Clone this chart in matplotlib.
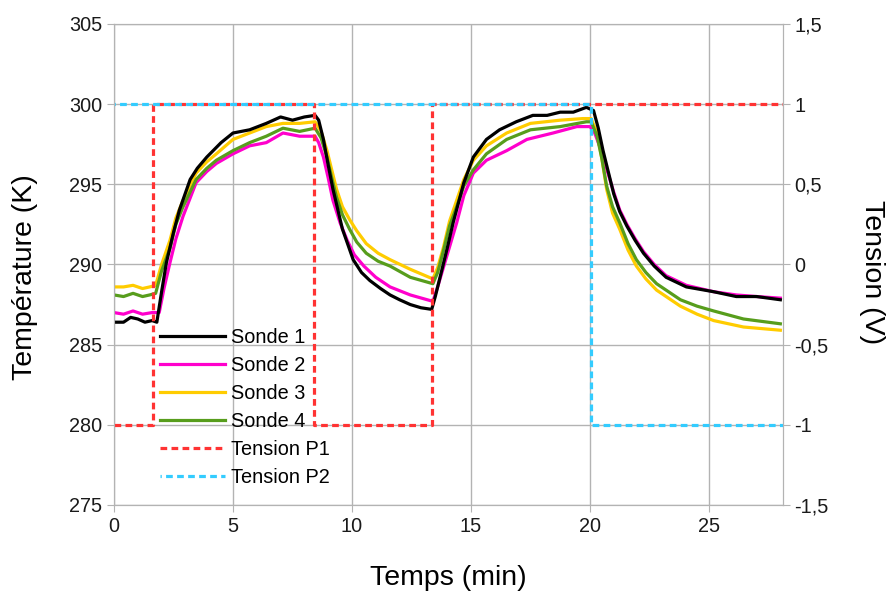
import matplotlib.pyplot as plt

plt.rcParams['font.family'] = ['Liberation Sans', 'DejaVu Sans']

# Sonde 1 (noir)
s1_t = [0, 0.4, 0.7, 1.0, 1.3, 1.6, 1.8, 2.0, 2.2, 2.5, 2.75, 3.2, 3.5, 3.9, 4.5, 5.0, 5.7, 6.4, 7.0, 7.5, 8.0, 8.45,
        8.6, 8.8, 9.0, 9.2, 9.6, 10.05, 10.4, 10.75, 11.2, 11.6, 12.0, 12.45, 12.9, 13.35,
        13.5, 13.7, 14.0, 14.25, 14.7, 15.1, 15.65, 16.2, 16.9, 17.6, 18.2, 18.75, 19.3, 19.85, 20.15,
        20.35, 20.55, 21.0, 21.25, 21.55, 21.9, 22.25, 22.7, 23.2, 24.05, 25.2, 26.15, 27.0, 28.0]
s1_T = [286.4, 286.4, 286.7, 286.6, 286.4, 286.5, 286.4, 288.3, 290.1, 292.0, 293.4, 295.3, 296.0, 296.7, 297.6, 298.2, 298.4, 298.8, 299.2, 299.0, 299.2, 299.3,
        299.0, 297.8, 296.2, 294.7, 292.2, 290.3, 289.5, 289.0, 288.5, 288.1, 287.8, 287.5, 287.3, 287.2,
        288.0, 289.2, 291.0, 292.6, 295.1, 296.7, 297.8, 298.4, 298.9, 299.3, 299.3, 299.5, 299.5, 299.8, 299.6,
        298.5, 297.1, 294.4, 293.3, 292.4, 291.5, 290.7, 289.9, 289.2, 288.6, 288.3, 288.0, 288.0, 287.8]

# Sonde 2 (magenta)
s2_t = [0, 0.4, 0.8, 1.2, 1.6, 1.9, 2.1, 2.35, 2.6, 2.9, 3.45, 3.9, 4.3, 5.0, 5.7, 6.4, 7.1, 7.8, 8.45,
        8.6, 8.8, 9.0, 9.2, 9.5, 9.8, 10.1, 10.5, 11.0, 11.6, 12.45, 13.4,
        13.6, 14.0, 14.4, 14.7, 15.1, 15.65, 16.5, 17.35, 18.45, 19.45, 20.0,
        20.2, 20.45, 21.0, 21.25, 21.55, 21.9, 22.25, 22.7, 23.2, 24.05, 25.2, 26.15, 27.0, 28.0]
s2_T = [287.0, 286.9, 287.1, 286.9, 287.0, 287.0, 288.5, 290.1, 291.6, 293.0, 295.1, 295.8, 296.3, 296.9, 297.4, 297.6, 298.2, 298.0, 298.0,
        297.6, 296.7, 295.4, 294.0, 292.6, 291.5, 290.6, 289.9, 289.2, 288.6, 288.1, 287.7,
        288.6, 290.6, 292.6, 294.3, 295.7, 296.5, 297.1, 297.8, 298.2, 298.6, 298.6,
        298.2, 297.2, 294.5, 293.4, 292.5, 291.6, 290.8, 290.0, 289.3, 288.7, 288.3, 288.1, 288.0, 287.9]

# Sonde 3 (jaune)
s3_t = [0, 0.4, 0.8, 1.2, 1.5, 1.75, 2.0, 2.35, 2.6, 2.9, 3.45, 3.9, 4.3, 5.0, 5.7, 6.4, 7.1, 7.8, 8.45,
        8.7, 8.95, 9.15, 9.35, 9.6, 9.9, 10.2, 10.6, 11.1, 11.6, 12.45, 13.4,
        13.6, 13.85, 14.1, 14.4, 14.7, 15.1, 15.65, 16.5, 17.5, 18.75, 19.7, 20.05,
        20.3, 20.5, 20.7, 20.95, 21.25, 21.6, 21.95, 22.35, 22.8, 23.3, 23.8, 24.5, 25.2, 26.45, 28.0]
s3_T = [288.6, 288.6, 288.7, 288.5, 288.6, 288.7, 290.0, 291.5, 292.9, 294.0, 295.7, 296.4, 296.9, 297.8, 298.2, 298.6, 298.8, 298.8, 298.9,
        298.3, 297.1, 295.9, 294.7, 293.6, 292.8, 292.1, 291.3, 290.7, 290.3, 289.7, 289.1,
        289.8, 291.1, 292.7, 294.0, 295.3, 296.5, 297.4, 298.2, 298.8, 299.0, 299.1, 299.1,
        298.2, 296.6, 294.7, 293.2, 292.2, 290.9, 289.9, 289.1, 288.4, 287.9, 287.4, 286.9, 286.5, 286.1, 285.9]

# Sonde 4 (vert)
s4_t = [0, 0.4, 0.8, 1.2, 1.5, 1.75, 2.0, 2.35, 2.6, 2.9, 3.45, 3.9, 4.3, 5.0, 5.7, 6.4, 7.1, 7.8, 8.45,
        8.7, 8.95, 9.15, 9.35, 9.6, 9.9, 10.2, 10.6, 11.1, 11.6, 12.45, 13.4,
        13.6, 13.85, 14.1, 14.4, 14.7, 15.1, 15.65, 16.5, 17.5, 18.75, 19.85, 20.05,
        20.3, 20.5, 20.7, 20.95, 21.25, 21.6, 21.95, 22.35, 22.8, 23.3, 23.8, 24.5, 25.2, 26.45, 28.0]
s4_T = [288.1, 288.0, 288.2, 288.0, 288.1, 288.2, 289.6, 291.0, 292.5, 293.6, 295.3, 296.0, 296.5, 297.1, 297.6, 298.0, 298.5, 298.3, 298.5,
        297.9, 296.7, 295.4, 294.2, 293.1, 292.2, 291.4, 290.7, 290.2, 289.9, 289.2, 288.8,
        289.5, 290.9, 292.4, 293.6, 294.9, 295.9, 296.9, 297.8, 298.4, 298.6, 298.9, 298.9,
        298.0, 296.6, 294.9, 293.6, 292.6, 291.3, 290.3, 289.5, 288.8, 288.3, 287.8, 287.4, 287.1, 286.6, 286.3]

# Tensions (V)
p1_t = [0, 1.65, 1.65, 8.4, 8.4, 13.35, 13.35, 28.1]
p1_V = [-1, -1, 1, 1, -1, -1, 1, 1]
p2_t = [0, 20.05, 20.05, 28.1]
p2_V = [1, 1, -1, -1]

x_ticks = [0, 5, 10, 15, 20, 25]
left_ticks = [275, 280, 285, 290, 295, 300, 305]
right_ticks = [-1.5, -1, -0.5, 0, 0.5, 1, 1.5]
right_labels = ['-1,5', '-1', '-0,5', '0', '0,5', '1', '1,5']

grid_col = '#b3b3b3'

fig = plt.figure(figsize=(8.92, 5.92), dpi=100)
ax = fig.add_axes([0.1278, 0.147, 0.8775 - 0.1278, 0.9595 - 0.147])

ax.plot(s1_t, s1_T, color='black', lw=2.3, label='Sonde 1', zorder=6)
ax.plot(s2_t, s2_T, color='#ff00cc', lw=2.3, label='Sonde 2', zorder=3)
ax.plot(s3_t, s3_T, color='#ffcc00', lw=2.3, label='Sonde 3', zorder=4)
ax.plot(s4_t, s4_T, color='#579d1c', lw=2.3, label='Sonde 4', zorder=5)

ax.set_xlim(0, 28.1)
ax.set_ylim(275, 305)
ax.set_xticks(x_ticks)
ax.set_yticks(left_ticks)
ax.grid(True, color=grid_col, lw=1)
ax.set_axisbelow(True)
for sp in ax.spines.values():
    sp.set_color(grid_col)
ax.tick_params(colors=grid_col, labelcolor='#1a1a1a', labelsize=14.3, length=5)

ax2 = ax.twinx()
ax2.plot(p1_t, p1_V, color='#ff3333', lw=2.3, ls=(0, (2.1, 1.35)), label='Tension P1')
ax2.plot(p2_t, p2_V, color='#33ccff', lw=2.3, ls=(1.7, (2.1, 1.35)), label='Tension P2')
ax2.set_ylim(-1.5, 1.5)
ax2.set_yticks(right_ticks)
ax2.set_yticklabels(right_labels)
for sp in ax2.spines.values():
    sp.set_color(grid_col)
ax2.tick_params(colors=grid_col, labelcolor='#1a1a1a', labelsize=14.3, length=5)

# titres des axes
fig.text(448 / 892, 1 - 578 / 592, 'Temps (min)', fontsize=20.5, ha='center', va='center')
fig.text(25 / 892, 1 - 277 / 592, 'Température (K)', fontsize=20.5, rotation=90,
         ha='center', va='center')
fig.text(872 / 892, 1 - 272 / 592, 'Tension (V)', fontsize=20.5, rotation=-90,
         ha='center', va='center')

h1, l1 = ax.get_legend_handles_labels()
h2, l2 = ax2.get_legend_handles_labels()
ax2.legend(h1 + h2, l1 + l2, loc='upper left', bbox_to_anchor=(0.0688, 0.368),
           frameon=False, fontsize=14.3, handlelength=3.27, handletextpad=0.29,
           labelspacing=0.45, borderaxespad=0, borderpad=0)

fig.savefig('out.png', dpi=100)
